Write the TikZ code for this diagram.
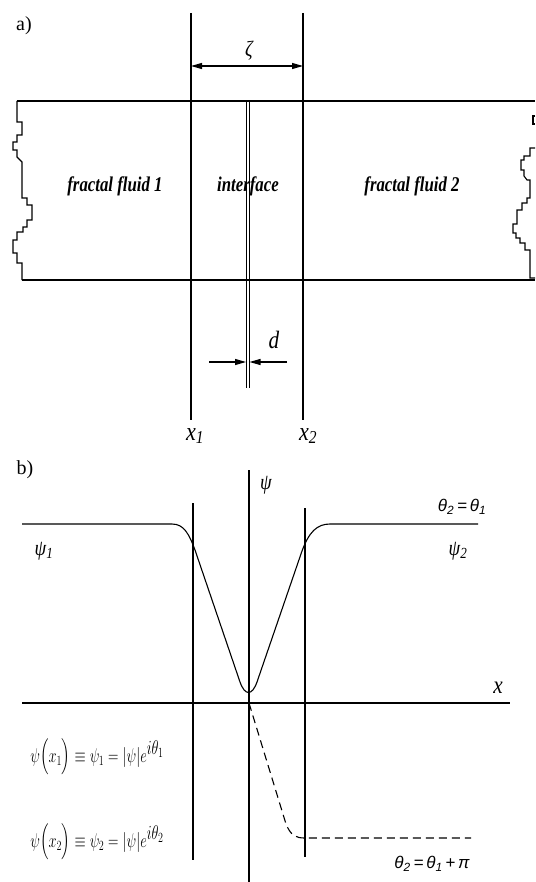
\RequirePackage{fix-cm}
\documentclass[tikz,border=0pt]{standalone}
\usepackage{amsmath}
\usepackage{amssymb}
\usepackage{fontspec}
\setmainfont{Liberation Serif}
\newfontfamily\sansgr{Liberation Sans}
\usetikzlibrary{
  arrows.meta,   % Triangle 箭头
  calc           % 坐标计算
}

\begin{document}
\begin{tikzpicture}[>={Triangle[length=11pt,width=6pt]}, x=1pt, y=-1pt, line width=1.1pt]
  \useasboundingbox (0,0) rectangle (535,882);
  \tikzset{
    fluidtext/.style={font=\fontsize{21}{23}\selectfont\bfseries\itshape, xscale=0.8, transform shape},
    symlab/.style={font=\fontsize{#1}{#1}\selectfont\itshape, xscale=0.85, transform shape},
    symlab/.default=24,
    thetatext/.style={font=\fontsize{17}{19}\selectfont\sansgr\itshape},
    eqtext/.style={font=\fontsize{20}{22}\selectfont, anchor=base west, inner sep=0pt, xscale=0.72, transform shape}
  }

  % ===== 上图 a) =====
  \node[font=\fontsize{20}{22}\selectfont] (labA) at (24,26) {a)};

  % 流体带：上下边界
  \draw (17,101) -- (535,101);
  \draw (22,280) -- (535,280);

  % 左侧分形边缘
  \draw (17,101) -- (17,122) -- (22,122) -- (22,135) -- (17,135) -- (17,142)
    -- (13,142) -- (13,150) -- (17,150) -- (17,157) -- (22,162) -- (22,198)
    -- (27,198) -- (27,205) -- (32,205) -- (32,220) -- (27,220) -- (27,227)
    -- (23,227) -- (23,232) -- (17,232) -- (17,240) -- (13,240) -- (13,253)
    -- (17,253) -- (17,263) -- (22,263) -- (22,280);

  % 右侧分形边缘
  \draw (535,116) -- (533,116) -- (533,124) -- (535,124);
  \draw (535,148) -- (530,148) -- (530,156) -- (524,156) -- (524,160)
    -- (521,160) -- (521,170) -- (524,170) -- (524,176) -- (527,180)
    -- (530,180) -- (530,198) -- (527,198) -- (527,203) -- (522,203)
    -- (522,210) -- (517,210) -- (517,224) -- (513,224) -- (513,233)
    -- (516,233) -- (516,238) -- (520,238) -- (520,243) -- (525,243)
    -- (525,250) -- (530,250) -- (530,278) -- (535,278);

  % 界面区两侧竖线 x1, x2
  \coordinate (x1top) at (191,13);
  \coordinate (x1bot) at (191,420);
  \coordinate (x2top) at (303,13);
  \coordinate (x2bot) at (303,420);
  \draw (x1top) -- (x1bot);
  \draw (x2top) -- (x2bot);
  \node[symlab=26] (labX1) at (195,436) {x\textsubscript{1}};
  \node[symlab=26] (labX2) at (308,436) {x\textsubscript{2}};

  % 界面宽度 ζ
  \coordinate (zetaL) at (191,66);
  \coordinate (zetaR) at (303,66);
  \draw[<->] (zetaL) -- (zetaR);
  \node[symlab=22] (labZeta) at (249,51) {ζ};

  % 界面（两条细线）及厚度 d
  \coordinate (ifLtop) at (246,101);
  \coordinate (ifLbot) at (246,388);
  \coordinate (ifRtop) at (249.5,101);
  \coordinate (ifRbot) at (249.5,388);
  \draw[line width=1pt] (ifLtop) -- (ifLbot);
  \draw[line width=1pt] (ifRtop) -- (ifRbot);
  \coordinate (dL) at (209,362);
  \coordinate (dR) at (287,362);
  \draw[->] (dL) -- (ifLtop |- dL);
  \draw[->] (dR) -- (ifRtop |- dR);
  \node[symlab=25] (labD) at (274,340) {d};

  % 区域文字
  \node[fluidtext] (fluid1) at (115,186) {fractal fluid 1};
  \node[fluidtext] (iface) at (248,186) {interface};
  \node[fluidtext] (fluid2) at (412,186) {fractal fluid 2};

  % ===== 下图 b) =====
  \node[font=\fontsize{20}{22}\selectfont] (labB) at (25,470) {b)};

  % 坐标轴
  \coordinate (psiTop) at (249,470);
  \coordinate (psiBot) at (249,882);
  \coordinate (xL) at (22,703);
  \coordinate (xR) at (510,703);
  \draw (psiTop) -- (psiBot);
  \draw (xL) -- (xR);
  \node[symlab=22] (labPsi) at (266,485) {ψ};
  \node[symlab=25] (labX) at (498,688) {x};

  % x1, x2 处竖线
  \draw (193,503) -- (193,860);
  \draw (305,508) -- (305,857);

  % 序参量 ψ 的模（实线）
  \draw (22,524) -- (172,524)
    .. controls (184,524) and (189,534) .. (195,550)
    -- (240,682) .. controls (245,696) and (252,696) .. (257,682)
    -- (302,551) .. controls (309,532) and (317,524) .. (330,524)
    -- (478,524);

  % 相位跳变分支（虚线）
  \coordinate (origin) at (249,703);
  \draw[dashed, dash pattern=on 8pt off 5pt] (origin) -- (286,824)
    .. controls (291,836) and (296,838) .. (305,838) -- (471,838);

  % 标注
  \node[symlab=22] (labPsi1) at (44,551) {ψ\textsubscript{1}};
  \node[symlab=22] (labPsi2) at (458,551) {ψ\textsubscript{2}};
  \node[thetatext] (labTh1) at (462,507) {θ\textsubscript{2}\,=\,θ\textsubscript{1}};
  \node[thetatext] (labTh2) at (432,864) {θ\textsubscript{2}\,=\,θ\textsubscript{1}\,+\,π};

  % 边界条件
  \node[eqtext] (eq1) at (30,762) {$\psi\Bigl(x_1\Bigr)\equiv\psi_1=|\psi|e^{\textstyle i\theta_1}$};
  \node[eqtext] (eq2) at (30,847) {$\psi\Bigl(x_2\Bigr)\equiv\psi_2=|\psi|e^{\textstyle i\theta_2}$};
\end{tikzpicture}
\end{document}
